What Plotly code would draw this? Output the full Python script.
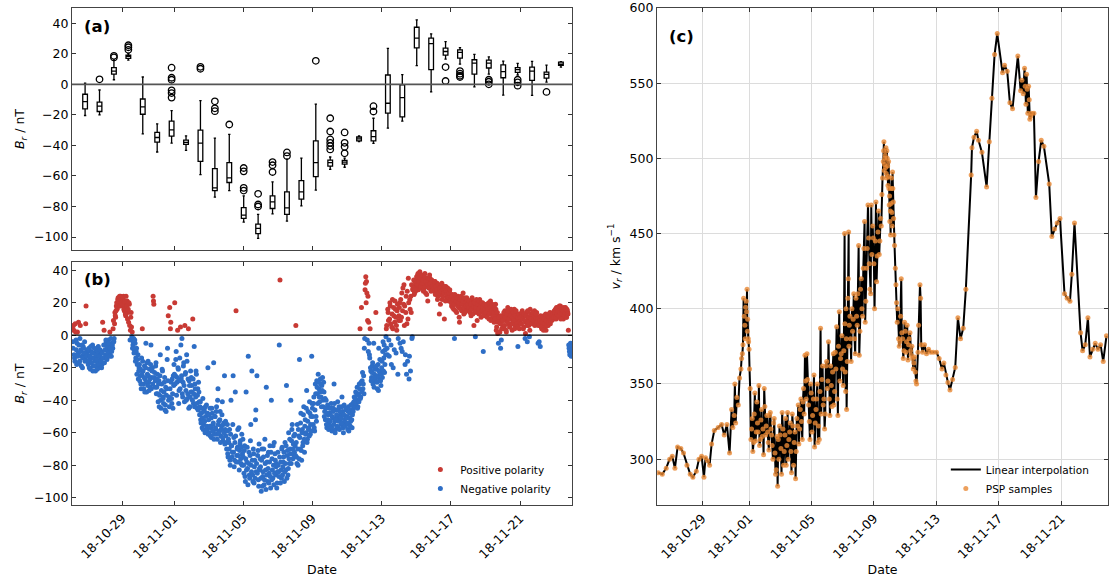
import pandas as pd
import plotly.graph_objects as go

# ---------------- data ----------------
T0 = pd.Timestamp("2018-10-26 00:00")
tick_dates = ["2018-10-29", "2018-11-01", "2018-11-05", "2018-11-09",
              "2018-11-13", "2018-11-17", "2018-11-21"]

# (a) box statistics, one box every 20 h starting 2018-10-26 20:40
box_start = "2018-10-26 20:40"
box_low = [-20.4, -20, 3.0, 15.9, -32.4, -44.3, -38.5, -43.3, -59.1, -73.9, -69.6, -90.2,
           -100.9, -84.8, -89.6, -79.6, -69.3, -55.7, -54.3, -37.5, -38.7, -28.7, -24.1,
           12.2, -5, 16.5, 13.3, -1.7, 6.7, -7, 6.1, -7.2, 1.5, 11.3]
box_q1 = [-16.1, -17.8, 6.7, 17, -19.6, -37.8, -33.9, -39.3, -50.4, -69.6, -64.3, -87.8,
          -97.8, -81.3, -85.2, -75.2, -60.4, -53.5, -52.2, -37, -37, -18.9, -21.3,
          23.9, 9.6, 19.1, 17.2, 6.7, 10.7, 4.3, 7.8, 2.6, 4.1, 12.5]
box_med = [-11.3, -14.3, 8.7, 18.3, -14.8, -34.8, -29.8, -38, -38.5, -67.8, -61.3, -85.7,
           -94.3, -77, -80.9, -70.4, -51.3, -51.3, -50.9, -35.7, -34.3, -12.4, -8.7,
           30.2, 26.7, 21.5, 20.9, 13.9, 13.9, 8.3, 9.6, 8.7, 6.5, 13.3]
box_q3 = [-6.5, -11.7, 10.9, 19.1, -9.6, -31.5, -24.1, -36.5, -30, -55.2, -51.3, -80.7,
          -91.5, -73, -70.4, -63, -37, -49.6, -49.8, -34.5, -30.4, 6.1, -0.4,
          37.4, 30.2, 23.7, 22.6, 16.1, 15.9, 12.8, 10.9, 11.3, 8, 14.5]
box_high = [0.7, -3.7, 16, 20.2, 4.8, -25.9, -17.2, -33.7, -10.7, -35.2, -32.8, -73,
            -85.2, -63.9, -49, -48.3, -13, -47.6, -48.3, -33.7, -22.2, 23.5, 6.3,
            42.2, 33, 28, 24.1, 19.6, 18, 15.2, 13.7, 15, 12.6, 14.8]
out_box = [1, 2, 2, 3, 3, 3, 6, 6, 6, 6, 6, 6, 8, 8, 9, 9, 9, 10, 11, 11, 11, 11,
           12, 12, 12, 13, 13, 13, 14, 14, 16, 17, 17, 17, 17, 17, 17, 18, 18, 18, 18,
           20, 20, 25, 25, 26, 26, 26, 26, 28, 28, 28, 30, 30, 30, 32]
out_val = [3.3, 18.7, 17.6, 25.6, 24.3, 22.6, 10.9, 4.3, 3.0, -3.9, -5.7, -8.7, 11.5, 10.2,
           -11.1, -15.7, -17.6, -26.3, -54.8, -57, -67.8, -69.6, -71.7, -78.7, -80,
           -50.9, -53, -57.4, -44.6, -47, 15.4, -22.2, -30.9, -36.1, -38.3, -40.4, -42.6,
           -31.5, -38.3, -40.9, -45.2, -14.3, -17.8, 11.3, 2.2, 8.7, 7, 5.7, 4.8,
           3.0, 1.7, 0, 3, 1.3, -0.9, -5]

# (b) Br samples: on the hour from 2018-10-26 03:00, and on the half hour from 03:30
br_start = "2018-10-26 03:00"
br_hourly = (
    [5, -8, 3, -14, 7, -3, -18, 2, -11, -6, -16, 6, -9, -13, -20, -7, -12, -4, -15, 18, -10] +
    [-12, -18, -8, -15, -21, -10, -14, -6, -19, -11, -16, -22, -9, -13, -17, -7, -20, -12, -15, -10, -18, 8, -14, 3] +
    [-6, -12, -4, -15, -9, -3, -11, 2, -7, -13, -5, -8, 9, -2, 14, 11, 18, 16, 22, 20, 23, 19, 24, 21] +
    [22, 18, 24, 15, 20, 12, 17, 21, 14, 8, 19, -3, 11, 5, 2, -6, -2, -9, -5, -14, -8, -18, -12, -22] +
    [-18, -25, -30, -14, 4, -22, -33, -19, -27, -5, -35, -24, -16, -29, -21, -32, -6, -26, -20, 24, 19, -23, -28, -17] +
    [-32, -24, -41, -28, -37, -12, -45, -30, -22, -39, -35, -26, -43, -47, -33, -8, 12, -38, 17, 4, -29, -42, -36, -25] +
    [-18, 20, -25, -10, -29, 3, -21, -34, -14, 5, -27, -2, -38, -19, -31, 6, -23, -40, -16, -36, 4, -28, -44, -22] +
    [-26, -35, 10, -42, -7, -30, -38, -24, -45, -33, -29, -41, -44, -52, -48, -57, -39, -55, -46, -60, -50, -43, -58, -20] +
    [-52, -60, -45, -57, -63, -48, -55, -17, -61, -50, -58, -44, -64, -33, -53, -59, -47, -62, -56, -41, -65, -54, -25, -58] +
    [-62, -70, -55, -75, -66, -58, -80, -40, -68, -72, -25, -63, -77, -35, 15, -74, -69, -78, -57, -71, -65, -79, -61, -73] +
    [-75, -85, -68, -90, -35, -78, -82, -13, -72, -88, -65, -80, -22, -86, -70, -91, -77, -52, -84, -25, -74, -89, -67, -83] +
    [-81, -96, -70, -87, -75, -92, -64, -83, -32, -78, -90, -72, -85, -68, -94, -40, -76, -88, -80, -66, -73, -86, -79, -91] +
    [-72, -84, -6, 34, -78, -88, -69, -81, -75, -90, -66, -83, -31, -74, -86, -60, -79, -70, -40, -65, -55, -76, -62, -72] +
    [-68, 6, -75, -55, -80, -62, -15, -70, -48, -77, -58, -66, -44, -72, -52, -60, -34, -64, -47, -57, -41, -61, -50, -13] +
    [-45, -55, -38, -59, -30, -50, -28, -36, -24, -33, -41, -27, -38, -31, -26, -44, -35, -47, -52, -40, -57, -43, -49, -54] +
    [-48, -56, -42, -59, -51, -45, -30, -53, -58, -46, -50, -41, -57, -44, -52, -49, -55, -38, -47, -60, -43, -54, -50, -46] +
    [-50, -58, -44, -55, -48, -53, -46, -57, -42, -45, -38, -43, -35, -40, -32, -44, -36, -30, 4, -38, 17, -28, -33, -25] +
    [-8, 28, 36, 33, -3, 24, 8, -12, 4, -22, -26, -19, -30, -5, -24, -28, 14, -21, -33, -18, -8, -27, -23, -31] +
    [-20, -26, -4, -14, -23, -9, -1, 6, -12, 14, -3, 10, 18, -6, 5, 22, -20, 12, 8, 16, -11, 3, 19, -2] +
    [12, 20, 9, -8, 26, 15, -4, 31, 18, -12, 24, 7, -16, 35, -27, 22, -22, 14, -2, 28, 30, 25, 33, 27] +
    [34, 30, 37, 28, 35, 39, 32, 29, 36, 33, 27, 31, 38, 26, 34, 30, 21, 33, 29, 35, 31, 28, 32, 30] +
    [31, 27, 33, 29, 26, 32, 24, 30, 13, 28, 25, 31, 22, 27, 29, 10, 26, 30, 23, 28, 25, 21, 27, 24] +
    [22, 18, 25, 20, 16, -2, 23, 19, 14, 21, 24, 17, 8, 20, 22, 15, 19, 26, 13, 21, 18, 16, 23, 20] +
    [19, 15, 21, 17, 12, 22, 16, 20, 6, 18, -1, 14, 21, 17, 19, 13, 22, 16, 11, 18, 20, -10, 17, 12] +
    [16, 12, 19, 14, 18, 10, 15, 21, 13, 17, 11, 16, 8, 14, 19, 3, 12, 1, -5, 9, 2, -8, -3, 10] +
    [6, 12, 4, 15, 9, 2, 11, 17, 7, 13, 5, 10, 14, 3, 8, 12, 16, 6, 11, 9, 13, -7, 10, 4] +
    [9, 13, 7, 15, 11, 5, 12, -2, 8, 14, -4, 10, 6, -1, 16, 9, 12, 7, 13, 11, 15, 8, 10, 14] +
    [8, -5, 11, 6, -7, 9, 4, 10, 7, 12, 5, 9, 3, 11, 8, 6, 13, 10, 7, 12, 9, 11, 14, 10] +
    [12, 16, 10, 14, 17, 11, 15, 13, 18, 12, 16, 14, 10, 15, 13, 17, 11, 16, 14, 3, -8, -12, -5, -13] +
    [-10]
)
br_half_start = "2018-10-26 03:30"
br_halfhourly = (
    [-4, 6, -12, -16, 2, -9, -5, -13, 8, -17, -2, -10, -19, -6, -14, -8, -11, -16, 7, -13, -9] +
    [-16, -9, -20, -13, -7, -17, -11, -22, -14, -8, -19, -12, -15, -21, -10, -18, -13, -9, -16, -20, -11, -14, -6, -17] +
    [-9, -3, -14, -7, -11, -5, -13, -8, -2, -10, -6, 4, -4, 7, 12, 15, 20, 17, 23, 21, 24, 18, 22, 20] +
    [19, 23, 16, 21, 13, 24, 18, 10, 16, 20, 6, 3, 14, -1, -8, -4, -11, -3, -16, -10, -24, -15, -27, -20] +
    [-28, -21, -33, -24, -16, -30, -26, -35, -20, -29, -17, -31, -25, -34, -27, -18, -33, -22, -30, 21, -26, -32, -19, -36] +
    [-27, -36, -30, -44, -25, -40, -34, -21, -38, -42, -29, -46, -32, -37, -15, -28, -40, -44, -33, 8, -39, -27, -45, -31] +
    [-24, -30, -15, -37, -26, -20, -42, -28, -33, -6, -25, -36, -29, -17, -41, -24, -34, -12, -39, -27, -45, -31, -38, -35] +
    [-31, -40, -27, -36, -44, -33, -22, -42, -37, -46, -35, -49, -41, -54, -45, -51, -58, -47, -53, -44, -59, -56, -48, -61] +
    [-49, -56, -62, -51, -45, -59, -54, -64, -50, -57, -47, -61, -40, -55, -60, -52, -66, -58, -49, -63, -55, -60, -67, -53] +
    [-66, -59, -73, -64, -70, -77, -61, -68, -75, -55, -72, -81, -66, -62, -78, -70, -58, -74, -83, -67, -76, -69, -80, -64] +
    [-80, -71, -87, -76, -83, -69, -92, -79, -86, -74, -55, -84, -77, -90, -73, -81, -88, -46, -79, -85, -71, -93, -82, -76] +
    [-88, -77, -93, -84, -70, -89, -79, -95, -86, -74, -82, -91, -78, -87, -72, -89, -83, -68, -92, -85, -77, -81, -94, -84] +
    [-80, -87, -75, -91, -83, -70, -86, -78, -72, -84, -79, -68, -88, -71, -82, -76, -64, -73, -79, -58, -70, -67, -74, -61] +
    [-74, -66, -79, -70, -58, -76, -63, -54, -71, -60, -68, -49, -64, -56, -61, -45, -66, -53, -58, -62, -48, -55, -59, -42] +
    [-50, -42, -57, -46, -36, -53, -32, -42, -29, -38, -35, -30, -44, -34, -40, -29, -50, -39, -45, -55, -48, -52, -58, -45] +
    [-53, -45, -57, -50, -47, -55, -42, -60, -52, -49, -56, -46, -53, -58, -47, -51, -44, -54, -57, -49, -52, -56, -45, -51] +
    [-54, -47, -59, -51, -56, -43, -52, -49, -47, -41, -44, -39, -42, -36, -45, -37, -41, -33, -39, -29, -35, -23, -30, -36] +
    [-2, 32, 20, 26, 9, -10, -5, -14, -20, -28, -23, -17, -27, -32, -21, -26, -19, -29, -25, -34, -22, -15, -28, -24] +
    [-16, -10, -22, -6, -18, -12, 4, -8, 16, 9, -13, 20, 7, -18, 13, 4, 17, -9, 21, 11, 6, 15, -24, 9] +
    [17, -5, 22, 11, -10, 29, 19, 6, -18, 14, -24, 27, 10, 20, -13, 16, 24, 31, -1, 29, 34, 26, 28, 32] +
    [36, 31, 38, 33, 29, 35, 30, 37, 32, 34, 28, 36, 30, 33, 25, 31, 35, 29, 37, 32, 27, 34, 30, 28] +
    [29, 33, 25, 30, 28, 22, 31, 26, 29, 19, 27, 32, 24, 28, 26, 30, 21, 27, 25, 29, 23, 26, 28, 22] +
    [20, 24, 17, 22, 19, 25, 15, 21, 23, 18, 20, 11, 22, 16, 24, 19, 21, 17, 23, 14, 20, 18, 22, 19] +
    [17, 21, 14, 19, 16, 23, 13, 18, 20, 15, 17, 22, 9, 19, 16, 21, 14, 18, 20, 15, 17, 13, 19, 16] +
    [14, 18, 11, 16, 20, 13, 17, 9, 15, 19, 12, 14, 17, 10, 16, 5, 14, 8, 11, 2, 7, 12, 4, 9] +
    [9, 14, 6, 11, 3, 13, 8, 15, 10, 5, 12, 16, 7, 11, 14, 9, 4, 12, 15, 7, 11, 5, 13, 8] +
    [11, 7, 14, 10, 4, 13, 9, 1, 12, 6, 15, 8, 11, 3, 13, 10, 7, 14, 9, 12, 6, 11, 13, 8] +
    [10, 6, -4, 9, 12, 5, 8, 11, 3, 10, 7, 13, 9, 6, 12, 8, 11, 14, 9, 12, 10, 13, 11, 15] +
    [14, 11, 17, 13, 15, 12, 18, 14, 10, 16, 13, 15, 17, 12, 14, 16, 11, 15, 13, -6, -10, -7, -11, -9]
)

# (c) PSP radial speed samples: days since 2018-10-26 00:00, km/s
vr_day = [0.18, 0.44, 0.69, 0.91, 1.08, 1.25, 1.42, 1.63, 1.80, 2.02, 2.23, 2.40, 2.62, 2.79, 2.96,
          3.11, 3.21, 3.34, 3.47, 3.60, 3.77, 4.02, 4.24, 4.41, 4.58, 4.75, 4.88, 4.96, 5.05, 5.09,
          5.14, 5.22, 5.31, 5.39, 5.48, 5.52, 5.61, 5.65, 5.73, 5.78, 5.87, 5.91, 5.95, 6.0, 6.03,
          6.07, 6.12, 6.2, 6.29, 6.37, 6.46, 6.54, 6.63, 6.72, 6.80, 6.89, 6.97, 7.06, 7.14, 7.23,
          7.31, 7.40, 7.48, 7.57, 7.66, 7.74, 7.83, 7.87, 7.95, 8.04, 8.12, 8.21, 8.30, 8.38, 8.47,
          8.55, 8.64, 8.72, 8.81, 8.89, 8.98, 9.06, 9.15, 9.24, 9.32, 9.41, 9.49, 9.58, 9.66, 9.71,
          9.75, 9.81, 9.90, 9.98, 10.07, 10.16, 10.24, 10.33, 10.41, 10.5, 10.58, 10.67, 10.75,
          10.84, 10.92, 11.01, 11.09, 11.18, 11.27, 11.35, 11.44, 11.52, 11.61, 11.69, 11.78,
          11.86, 11.95, 12.03, 12.12, 12.16, 12.21, 12.25, 12.33, 12.38, 12.42, 12.5, 12.59,
          12.67, 12.76, 12.85, 12.93, 13.02, 13.06, 13.14, 13.23, 13.32, 13.40, 13.44, 13.53,
          13.62, 13.66, 13.74, 13.83, 13.87, 13.96, 14.04, 14.13, 14.17, 14.26, 14.34, 14.43,
          14.51, 14.55, 14.6, 14.64, 14.68, 14.72, 14.77, 14.81, 14.85, 14.9, 14.94, 14.98,
          15.02, 15.07, 15.11, 15.15, 15.19, 15.24, 15.28, 15.32, 15.37, 15.41, 15.45, 15.49,
          15.58, 15.66, 15.75, 15.79, 15.88, 15.96, 16.05, 16.13, 16.22, 16.31, 16.39, 16.48,
          16.56, 16.65, 16.73, 16.82, 16.86, 16.95, 16.99, 17.03, 17.12, 17.24, 17.37, 17.5,
          17.63, 17.80, 18.01, 18.18, 18.36, 18.48, 18.61, 18.74, 18.87, 19.04, 19.21, 19.38,
          19.55, 19.72, 19.89, 20.23, 20.28, 20.41, 20.58, 20.70, 20.92, 21.22, 21.39, 21.56,
          21.73, 21.9, 22.24, 22.37, 22.54, 22.71, 22.88, 23.22, 23.40, 23.48, 23.57, 23.65,
          23.69, 23.74, 23.78, 23.82, 23.86, 23.91, 23.95, 23.99, 24.04, 24.08, 24.25, 24.38,
          24.55, 24.72, 24.89, 25.23, 25.40, 25.57, 25.74, 25.92, 26.21, 26.38, 26.56, 26.68,
          26.85, 27.24, 27.37, 27.54, 27.71, 27.84, 28.01, 28.18, 28.35, 28.52, 28.69, 28.9]
vr_kms = [291, 290, 294, 300, 302, 294, 308, 307, 304, 296, 290, 288, 292, 300, 302,
          288, 301, 299, 296, 310, 319, 321, 323, 316, 323, 304, 333, 321, 329, 350,
          324, 341, 336, 354, 360, 367, 376, 407, 389, 401, 413, 393, 380, 373, 360,
          347, 313, 327, 311, 344, 318, 324, 349, 313, 333, 320, 347, 316, 329, 311,
          329, 320, 309, 324, 304, 293, 282, 313, 322, 307, 331, 296, 316, 296, 331,
          313, 324, 291, 322, 311, 287, 327, 336, 320, 340, 313, 347, 369, 340, 370,
          353, 336, 313, 344, 329, 356, 324, 340, 311, 313, 387, 353, 336,
          320, 362, 347, 378, 329, 349, 358, 336, 371, 388, 329, 398,
          367, 382, 349, 450, 358, 400, 333, 407, 451, 389, 380, 400,
          393, 380, 407, 389, 442, 369, 413, 400, 427, 458, 391, 427,
          469, 447, 413, 469, 436, 447, 400, 471, 418, 451, 436, 460,
          476, 487, 498, 511, 496, 502, 507, 487, 500, 482, 498, 469,
          458, 449, 480, 464, 491, 471, 449, 442, 427, 416, 404, 391,
          380, 378, 420, 384, 367, 391, 371, 389, 376, 384, 369, 367,
          364, 358, 350, 371, 389, 416, 407, 376, 371, 376, 370, 373,
          371, 371, 371, 367, 360, 364, 356, 351, 346, 353, 361, 394,
          380, 387, 413, 489, 507, 514, 518, 512, 504, 481, 511, 540,
          569, 583, 557, 562, 558, 537, 533, 568, 545, 552, 543, 560,
          548, 536, 556, 546, 530, 548, 539, 526, 528, 530, 530, 474,
          498, 512, 508, 483, 448, 453, 457, 460, 410, 407, 405, 423,
          457, 384, 372, 376, 394, 368, 373, 377, 373, 376, 365, 382]
# additional PSP samples in the densely sampled interval
vr_day_dense = [5.57, 5.69, 5.75, 5.82, 5.84, 5.89, 5.97,
                6.16, 6.24, 6.33, 6.41, 6.50, 6.58, 6.67, 6.76, 6.84, 6.93, 7.01, 7.10, 7.19, 7.27,
                7.36, 7.44, 7.53, 7.61, 7.70, 7.79, 7.91, 7.99, 8.08, 8.17, 8.25, 8.34, 8.42, 8.51,
                8.60, 8.68, 8.77, 8.85, 8.94, 9.02, 9.11, 9.19, 9.28, 9.36, 9.45, 9.53, 9.62,
                9.86, 9.94, 10.03, 10.12, 10.20, 10.29, 10.37, 10.45, 10.54, 10.62, 10.71, 10.80,
                10.88, 10.97, 11.05, 11.14, 11.22, 11.31, 11.40, 11.48, 11.56, 11.65, 11.73, 11.82,
                11.90, 11.99, 12.07, 12.14, 12.19, 12.23, 12.29, 12.36, 12.40, 12.46, 12.54, 12.63,
                12.71, 12.80, 12.89, 12.97, 13.10, 13.19, 13.27, 13.36, 13.48, 13.57, 13.70, 13.79,
                13.92, 14.00, 14.09, 14.21, 14.30, 14.38, 14.47, 14.62, 14.66, 14.70, 14.75, 14.79,
                14.83, 14.88, 14.92, 14.96, 15.00, 15.05, 15.09, 15.13, 15.17, 15.21, 15.26,
                15.53, 15.62, 15.71, 15.84, 15.92, 16.01, 16.09, 16.18, 16.26, 16.35, 16.43,
                16.52, 16.60, 16.69]
vr_kms_dense = [370, 395, 380, 405, 398, 385, 378,
                320, 305, 330, 312, 338, 318, 309, 326, 315, 303, 335, 322, 318, 306,
                331, 316, 300, 327, 290, 315, 300, 316, 290, 320, 305, 327, 309, 300,
                318, 305, 330, 296, 318, 305, 322, 310, 333, 325, 338, 330, 352,
                325, 350, 318, 340, 308, 333, 350, 322, 345, 330, 362, 340,
                330, 365, 352, 340, 362, 335, 370, 345, 360, 340, 375, 352,
                370, 360, 372, 390, 345, 380, 365, 420, 375, 395, 365, 385,
                410, 370, 395, 410, 385, 420, 395, 440, 405, 440, 430, 410,
                455, 430, 445, 435, 465, 445, 455, 505, 492, 500, 494, 490,
                505, 495, 488, 480, 475, 465, 470, 487, 455, 480, 460,
                400, 375, 395, 380, 372, 385, 378, 366, 380, 372, 375,
                360, 368, 352]

# ---------------- derived ----------------
box_x = pd.date_range(box_start, periods=len(box_med), freq="20h")
out_x = [box_x[i] for i in out_box]
br_t = (list(pd.date_range(br_start, periods=len(br_hourly), freq="h")) +
        list(pd.date_range(br_half_start, periods=len(br_halfhourly), freq="h")))
br_v = br_hourly + br_halfhourly
pos_t = [t for t, v in zip(br_t, br_v) if v > 0]
pos_v = [v for v in br_v if v > 0]
neg_t = [t for t, v in zip(br_t, br_v) if v <= 0]
neg_v = [v for v in br_v if v <= 0]
vr_pairs = sorted(zip(vr_day + vr_day_dense, vr_kms + vr_kms_dense))
vr_t = [T0 + pd.Timedelta(days=d) for d, _ in vr_pairs]
vr_v = [v for _, v in vr_pairs]

RED = "rgb(200,58,52)"
BLUE = "rgb(46,110,198)"
ORANGE = "rgba(232,136,52,0.8)"
FONT = "DejaVu Sans"
XR = ["2018-10-26 02:30", "2018-11-24 00:00"]

fig = go.Figure()
fig.add_trace(go.Box(x=box_x, q1=box_q1, median=box_med, q3=box_q3,
                     lowerfence=box_low, upperfence=box_high, orientation="v",
                     xaxis="x", yaxis="y", boxpoints=False, whiskerwidth=0.5,
                     width=6.5 * 3600 * 1000, line=dict(color="black", width=1.3),
                     fillcolor="rgba(0,0,0,0)", showlegend=False, hoverinfo="skip"))
fig.add_trace(go.Scatter(x=out_x, y=out_val, mode="markers", xaxis="x", yaxis="y",
                         marker=dict(symbol="circle-open", size=6.5, color="black",
                                     line=dict(width=1.3)), showlegend=False))
fig.add_trace(go.Scatter(x=pos_t, y=pos_v, mode="markers", xaxis="x2", yaxis="y2",
                         name="Positive polarity", marker=dict(size=5, color=RED), legend="legend"))
fig.add_trace(go.Scatter(x=neg_t, y=neg_v, mode="markers", xaxis="x2", yaxis="y2",
                         name="Negative polarity", marker=dict(size=5, color=BLUE), legend="legend"))
fig.add_trace(go.Scatter(x=vr_t, y=vr_v, mode="lines", xaxis="x3", yaxis="y3",
                         name="Linear interpolation", line=dict(color="black", width=2),
                         legend="legend2"))
fig.add_trace(go.Scatter(x=vr_t, y=vr_v, mode="markers", xaxis="x3", yaxis="y3",
                         name="PSP samples", marker=dict(size=5, color=ORANGE),
                         legend="legend2"))

common_ax = dict(showline=True, linecolor="#444", linewidth=1.2, mirror="allticks",
                 ticks="inside", ticklen=4, tickwidth=1, tickcolor="#333",
                 tickfont=dict(family=FONT, size=12.5, color="black"), zeroline=False,
                 showgrid=False, automargin=False)
xdate = dict(type="date", range=XR, tickvals=tick_dates, tickformat="%y-%m-%d")

fig.update_layout(
    width=1118, height=579, margin=dict(l=0, r=0, t=0, b=0, autoexpand=False),
    paper_bgcolor="white", plot_bgcolor="white",
    font=dict(family=FONT, size=12.5, color="black"),
    xaxis=dict(**common_ax, **xdate, domain=[0.0644, 0.5116], anchor="y",
               showticklabels=False),
    yaxis=dict(**common_ax, domain=[0.5682, 0.9862], anchor="x", range=[-108.5, 50],
               tickvals=[-100, -80, -60, -40, -20, 0, 20, 40],
               title=dict(text="<i>B<sub>r</sub></i> / nT", standoff=6,
                          font=dict(family=FONT, size=12.5))),
    xaxis2=dict(**common_ax, **xdate, domain=[0.0644, 0.5116], anchor="y2",
                tickangle=-45,
                title=dict(text="Date", standoff=4, font=dict(family=FONT, size=12.5))),
    yaxis2=dict(**common_ax, domain=[0.1278, 0.5475], anchor="x2", range=[-104.5, 45],
                tickvals=[-100, -80, -60, -40, -20, 0, 20, 40],
                title=dict(text="<i>B<sub>r</sub></i> / nT", standoff=6,
                           font=dict(family=FONT, size=12.5))),
    xaxis3=dict(**{**common_ax, "showgrid": True}, **xdate, domain=[0.5877, 0.9911],
                anchor="y3", tickangle=-45, gridcolor="#dcdcdc", gridwidth=1,
                title=dict(text="Date", standoff=4, font=dict(family=FONT, size=12.5))),
    yaxis3=dict(**{**common_ax, "showgrid": True}, domain=[0.1278, 0.9862], anchor="x3",
                range=[269.5, 600], tickvals=[300, 350, 400, 450, 500, 550, 600],
                gridcolor="#dcdcdc", gridwidth=1,
                title=dict(text="<i>v<sub>r</sub></i> / km s<sup>−1</sup>", standoff=6,
                           font=dict(family=FONT, size=12.5))),
    legend=dict(x=0.376, y=0.214, xanchor="left", yanchor="top", bgcolor="rgba(0,0,0,0)",
                font=dict(family=FONT, size=10.5), itemwidth=30, tracegroupgap=0),
    legend2=dict(x=0.846, y=0.214, xanchor="left", yanchor="top", bgcolor="rgba(0,0,0,0)",
                 font=dict(family=FONT, size=10.5), itemwidth=30),
    shapes=[
        dict(type="line", xref="x domain", yref="y", x0=0, x1=1, y0=0, y1=0,
             line=dict(color="#555", width=1.6), layer="above"),
        dict(type="line", xref="x2 domain", yref="y2", x0=0, x1=1, y0=0, y1=0,
             line=dict(color="black", width=1.2), layer="above"),
    ],
    annotations=[
        dict(text="<b>(a)</b>", xref="x domain", yref="y domain", x=0.02, y=0.923,
             xanchor="left", yanchor="middle", showarrow=False,
             font=dict(family=FONT, size=16.5)),
        dict(text="<b>(b)</b>", xref="x2 domain", yref="y2 domain", x=0.02, y=0.927,
             xanchor="left", yanchor="middle", showarrow=False,
             font=dict(family=FONT, size=16.5)),
        dict(text="<b>(c)</b>", xref="x3 domain", yref="y3 domain", x=0.022, y=0.942,
             xanchor="left", yanchor="middle", showarrow=False,
             font=dict(family=FONT, size=16.5)),
    ],
)

fig.write_html("out.html", config={"displayModeBar": False},
               post_script="document.body.style.margin='0';document.body.style.padding='0';")
